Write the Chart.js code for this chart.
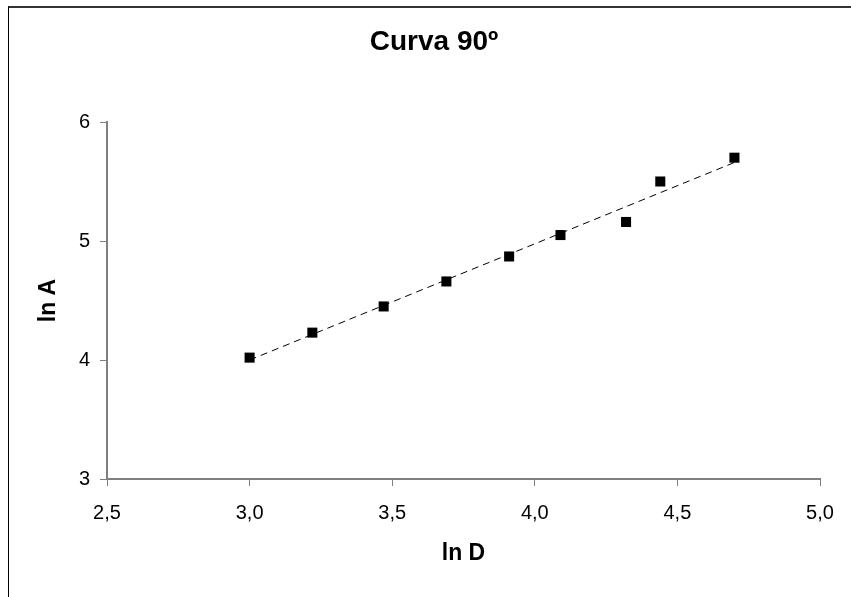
<!DOCTYPE html>
<html>
<head>
<meta charset="utf-8">
<script src="https://cdn.jsdelivr.net/npm/chart.js@4/dist/chart.umd.min.js"></script>
<style>
  body { margin: 0; background: #fff; overflow: hidden; }
  #wrap { position: relative; width: 851px; height: 597px; overflow: hidden; }
  #frame { position: absolute; left: 8px; top: 6px; width: 1000px; height: 1000px;
    border-top: 2px solid #333; border-left: 1px solid #000; }
  canvas { position: absolute; left: 0; top: 0; }
</style>
</head>
<body>
<div id="wrap">
  <div id="frame"></div>
  <canvas id="chart" width="851" height="597"></canvas>
</div>
<script>
// measured points (ln D, ln A)
const lnD = [3.00, 3.22, 3.47, 3.69, 3.91, 4.09, 4.32, 4.44, 4.70];
const lnA = [4.02, 4.23, 4.45, 4.66, 4.87, 5.05, 5.16, 5.50, 5.70];

// linear trendline ends
const trendD = [3.00, 4.70];
const trendA = [4.00, 5.66];

const chartTitle = 'Curva 90º';
const xTitle = 'ln D';
const yTitle = 'ln A';

const FONT = "'Liberation Sans', Arial, sans-serif";
const axisGray = '#808080';

const points = lnD.map((d, i) => ({ x: d, y: lnA[i] }));
const trend = trendD.map((d, i) => ({ x: d, y: trendA[i] }));

// left padding moves the title centre; y axis fills the rest up to x=107
const padLeft = 48;

const config = {
  type: 'scatter',
  data: {
    datasets: [
      {
        label: 'dados',
        data: points,
        pointStyle: 'rect',
        pointRadius: 7.1,
        pointHoverRadius: 7.1,
        backgroundColor: '#000',
        borderColor: '#000',
        borderWidth: 0
      },
      {
        label: 'tendência',
        data: trend,
        showLine: true,
        pointRadius: 0,
        borderColor: '#000',
        borderWidth: 1,
        borderDash: [7, 5],
        fill: false
      }
    ]
  },
  options: {
    responsive: false,
    animation: false,
    layout: {
      padding: { left: padLeft, right: 31, top: 0, bottom: 0 }
    },
    plugins: {
      legend: { display: false },
      tooltip: { enabled: false },
      title: {
        display: true,
        text: chartTitle,
        color: '#000',
        font: { family: FONT, size: 28, weight: 'bold' },
        padding: { top: 25.2, bottom: 63.2 }
      }
    },
    scales: {
      x: {
        type: 'linear',
        min: 2.5,
        max: 5.0,
        afterFit: (scale) => { scale.height = 118; },
        border: { display: true, color: axisGray, width: 2 },
        grid: {
          display: true,
          drawOnChartArea: false,
          drawTicks: true,
          tickLength: 7,
          tickColor: axisGray
        },
        ticks: {
          stepSize: 0.5,
          color: '#000',
          padding: 15,
          maxRotation: 0,
          font: { family: FONT, size: 20 },
          callback: (v) => v.toFixed(1).replace('.', ',')
        },
        title: {
          display: true,
          text: xTitle,
          color: '#000',
          font: { family: FONT, size: 23, weight: 'bold' },
          padding: { top: 0, bottom: 29.2 }
        }
      },
      y: {
        type: 'linear',
        min: 3,
        max: 6,
        afterFit: (scale) => { scale.width = 107 - padLeft; },
        border: { display: true, color: axisGray, width: 2 },
        grid: {
          display: true,
          drawOnChartArea: false,
          drawTicks: true,
          tickLength: 7,
          tickColor: axisGray
        },
        ticks: {
          stepSize: 1,
          color: '#000',
          padding: 10,
          font: { family: FONT, size: 20 }
        },
        title: {
          display: true,
          text: yTitle,
          color: '#000',
          font: { family: FONT, size: 23, weight: 'bold' },
          padding: { top: 49 - padLeft - 13.8, bottom: 0 }
        }
      }
    }
  }
};

const myChart = new Chart(document.getElementById('chart'), config);
</script>
</body>
</html>
